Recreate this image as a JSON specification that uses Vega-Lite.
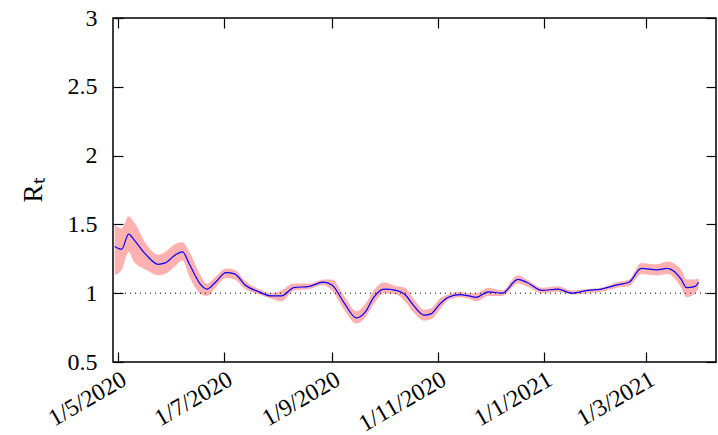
{
"$schema":"https://vega.github.io/schema/vega-lite/v6.json",
"width":603,"height":344,
"autosize":{"type":"none"},
"padding":{"left":113,"top":18,"right":2,"bottom":73},
"config":{"font":"Liberation Serif","view":{"stroke":"black","strokeWidth":1.5},
"axis":{"labelFont":"Liberation Serif","labelFontSize":24,"labelColor":"black","titleFont":"Liberation Serif","titleFontSize":27,"titleFontWeight":"normal","titleColor":"black","grid":false,"domain":false,"tickColor":"black","tickSize":-10,"tickWidth":1.2}},
"data":{"values":[
{"d":"2020-04-29","r":1.34,"lo":1.13,"hi":1.5},
{"d":"2020-05-03","r":1.32,"lo":1.17,"hi":1.47},
{"d":"2020-05-07","r":1.43,"lo":1.3,"hi":1.56},
{"d":"2020-05-10","r":1.39,"lo":1.23,"hi":1.52},
{"d":"2020-05-17","r":1.28,"lo":1.17,"hi":1.36},
{"d":"2020-05-24","r":1.21,"lo":1.13,"hi":1.28},
{"d":"2020-05-28","r":1.22,"lo":1.14,"hi":1.3},
{"d":"2020-06-03","r":1.28,"lo":1.2,"hi":1.36},
{"d":"2020-06-07","r":1.3,"lo":1.24,"hi":1.37},
{"d":"2020-06-11","r":1.21,"lo":1.12,"hi":1.3},
{"d":"2020-06-17","r":1.07,"lo":1.0,"hi":1.14},
{"d":"2020-06-21","r":1.03,"lo":0.98,"hi":1.07},
{"d":"2020-06-26","r":1.08,"lo":1.04,"hi":1.12},
{"d":"2020-07-02","r":1.15,"lo":1.11,"hi":1.18},
{"d":"2020-07-07","r":1.14,"lo":1.1,"hi":1.17},
{"d":"2020-07-13","r":1.06,"lo":1.03,"hi":1.09},
{"d":"2020-07-21","r":1.01,"lo":0.99,"hi":1.03},
{"d":"2020-07-28","r":0.98,"lo":0.96,"hi":1.0},
{"d":"2020-08-03","r":0.98,"lo":0.94,"hi":1.02},
{"d":"2020-08-10","r":1.04,"lo":1.02,"hi":1.07},
{"d":"2020-08-19","r":1.05,"lo":1.03,"hi":1.07},
{"d":"2020-08-27","r":1.08,"lo":1.06,"hi":1.1},
{"d":"2020-09-01","r":1.06,"lo":1.02,"hi":1.1},
{"d":"2020-09-08","r":0.93,"lo":0.88,"hi":0.98},
{"d":"2020-09-15","r":0.82,"lo":0.78,"hi":0.87},
{"d":"2020-09-20","r":0.86,"lo":0.82,"hi":0.92},
{"d":"2020-09-25","r":0.97,"lo":0.92,"hi":1.02},
{"d":"2020-10-01","r":1.03,"lo":1.0,"hi":1.08},
{"d":"2020-10-08","r":1.02,"lo":0.99,"hi":1.05},
{"d":"2020-10-13","r":0.99,"lo":0.94,"hi":1.04},
{"d":"2020-10-18","r":0.91,"lo":0.86,"hi":0.96},
{"d":"2020-10-24","r":0.84,"lo":0.8,"hi":0.88},
{"d":"2020-10-28","r":0.85,"lo":0.81,"hi":0.89},
{"d":"2020-11-02","r":0.92,"lo":0.88,"hi":0.96},
{"d":"2020-11-07","r":0.97,"lo":0.95,"hi":0.99},
{"d":"2020-11-13","r":0.99,"lo":0.97,"hi":1.01},
{"d":"2020-11-19","r":0.98,"lo":0.96,"hi":1.0},
{"d":"2020-11-23","r":0.97,"lo":0.94,"hi":1.0},
{"d":"2020-11-30","r":1.01,"lo":0.98,"hi":1.04},
{"d":"2020-12-08","r":1.0,"lo":0.98,"hi":1.02},
{"d":"2020-12-17","r":1.1,"lo":1.07,"hi":1.13},
{"d":"2020-12-22","r":1.08,"lo":1.05,"hi":1.1},
{"d":"2020-12-31","r":1.02,"lo":1.0,"hi":1.04},
{"d":"2021-01-09","r":1.03,"lo":1.01,"hi":1.05},
{"d":"2021-01-17","r":1.0,"lo":0.99,"hi":1.02},
{"d":"2021-01-26","r":1.02,"lo":1.0,"hi":1.03},
{"d":"2021-02-03","r":1.03,"lo":1.01,"hi":1.04},
{"d":"2021-02-12","r":1.06,"lo":1.04,"hi":1.08},
{"d":"2021-02-19","r":1.08,"lo":1.05,"hi":1.1},
{"d":"2021-02-26","r":1.18,"lo":1.14,"hi":1.22},
{"d":"2021-03-07","r":1.17,"lo":1.13,"hi":1.21},
{"d":"2021-03-13","r":1.18,"lo":1.14,"hi":1.23},
{"d":"2021-03-21","r":1.1,"lo":1.04,"hi":1.17},
{"d":"2021-03-24","r":1.04,"lo":0.97,"hi":1.1},
{"d":"2021-03-29","r":1.05,"lo":1.0,"hi":1.1},
{"d":"2021-03-31","r":1.08,"lo":1.04,"hi":1.11}
]},
"layer":[
{"mark":{"type":"area","color":"#ffb0b0","interpolate":"monotone"},
"encoding":{"x":{"field":"d","type":"temporal","scale":{"type":"utc","domain":["2020-04-28","2021-04-10"],"nice":false},
"axis":{"title":null,"values":["2020-05-01","2020-07-01","2020-09-01","2020-11-01","2021-01-01","2021-03-01"],"labelExpr":"utcFormat(datum.value,'%-d/%-m/%Y')","labelAngle":-30,"labelAlign":"right","labelBaseline":"top","labelPadding":15}},
"y":{"field":"lo","type":"quantitative","scale":{"domain":[0.5,3],"nice":false,"zero":false},"axis":{"title":"Rₜ","titleAngle":-90,"titlePadding":20,"values":[0.5,1,1.5,2,2.5,3],"format":"~g","labelPadding":26}},
"y2":{"field":"hi"}}},
{"mark":{"type":"rule","strokeDash":[1,4],"color":"black","strokeWidth":1},"data":{"values":[{"y":1}]},"encoding":{"y":{"field":"y","type":"quantitative","axis":null}}},
{"mark":{"type":"line","color":"#0000ff","strokeWidth":1.2,"interpolate":"monotone"},
"encoding":{"x":{"field":"d","type":"temporal","axis":{"orient":"top","labels":false,"title":null,"values":["2020-05-01","2020-07-01","2020-09-01","2020-11-01","2021-01-01","2021-03-01"]}},
"y":{"field":"r","type":"quantitative","axis":{"orient":"right","labels":false,"title":null,"values":[0.5,1,1.5,2,2.5,3]}}}}
],
"resolve":{"axis":{"x":"independent","y":"independent"}}
}
